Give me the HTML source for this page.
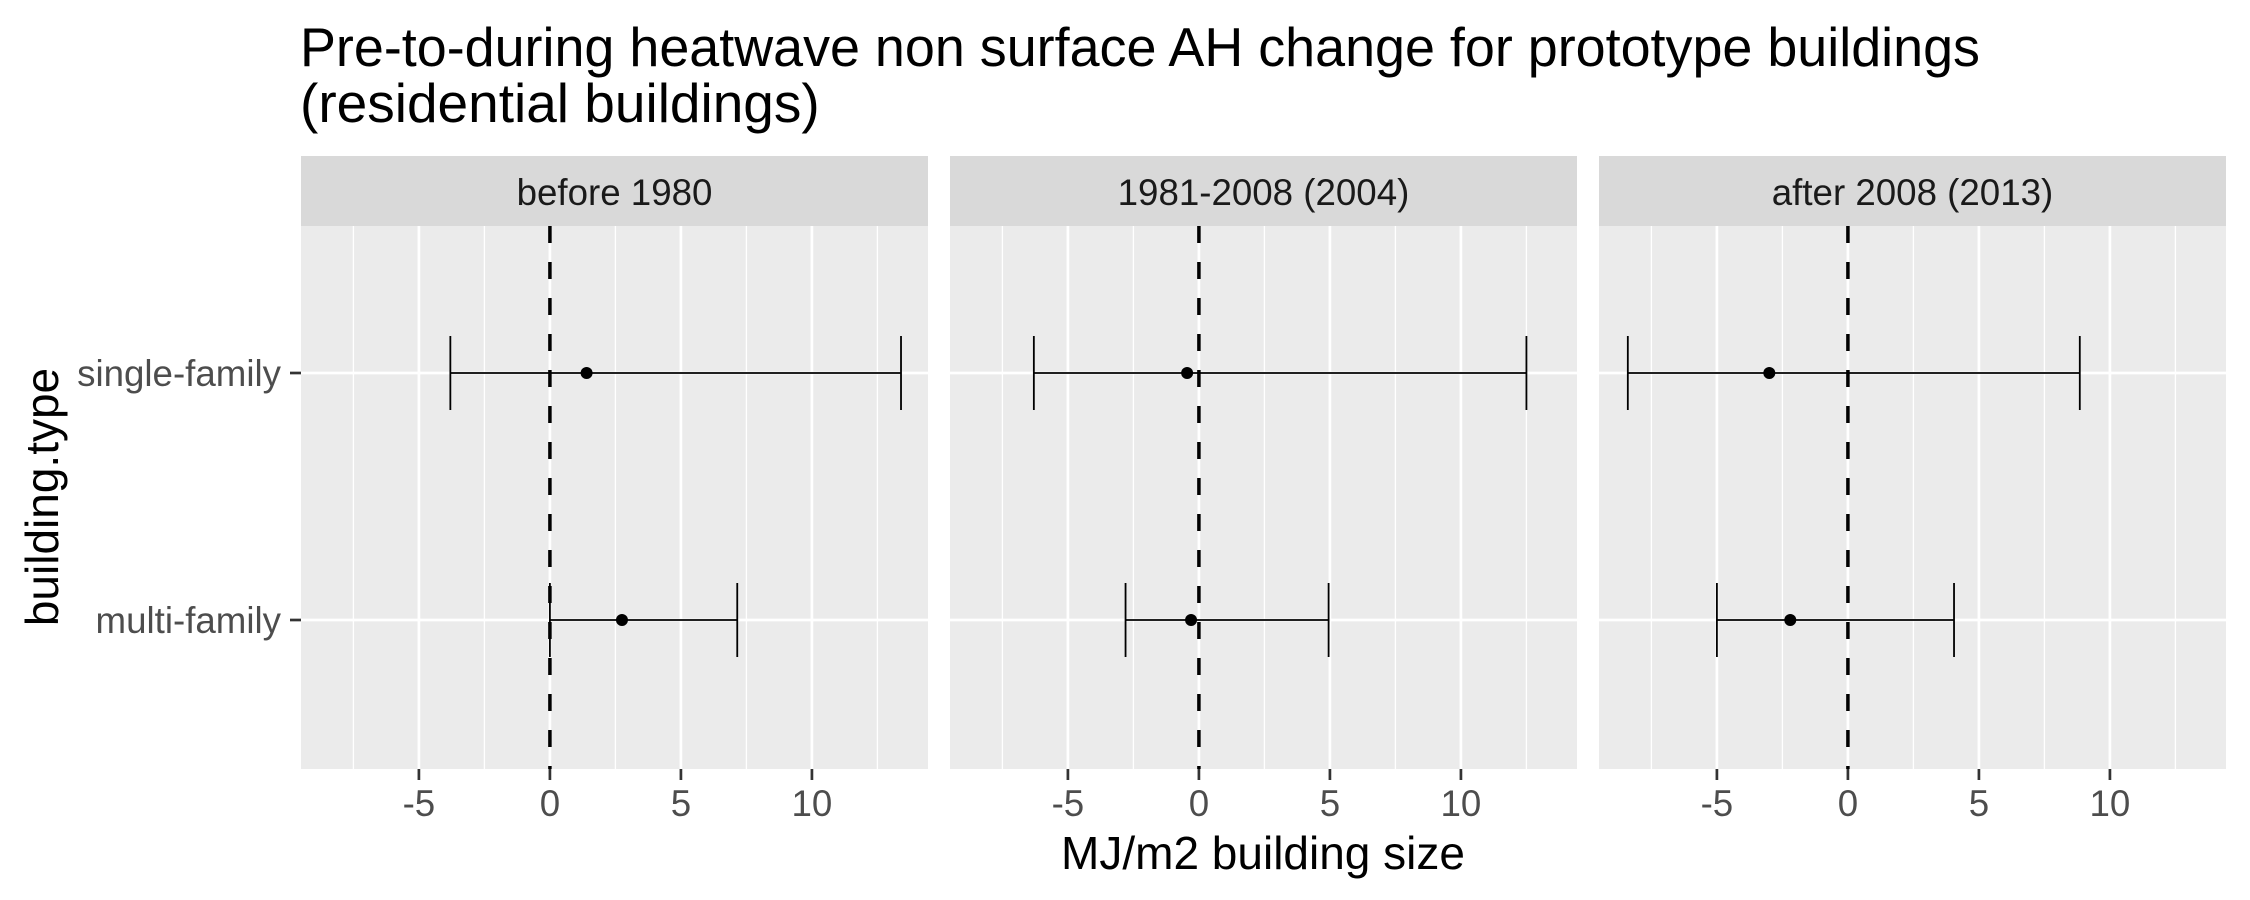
<!DOCTYPE html>
<html><head><meta charset="utf-8"><style>
html,body{margin:0;padding:0;background:#fff;}
svg{display:block;font-family:"Liberation Sans",Arial,sans-serif;}
</style></head><body>
<svg id="chart" width="2250" height="900" viewBox="0 0 2250 900" xmlns="http://www.w3.org/2000/svg">
<text x="300" y="66" font-size="55" fill="#000" textLength="1680" lengthAdjust="spacingAndGlyphs">Pre-to-during heatwave non surface AH change for prototype buildings</text>
<text x="300" y="122" font-size="55" fill="#000">(residential buildings)</text>
<text transform="translate(58,497) rotate(-90)" text-anchor="middle" font-size="46" fill="#000">building.type</text>
<text x="1263" y="869" text-anchor="middle" font-size="46" fill="#000">MJ/m2 building size</text>
<g id="panels"></g>
</svg>
<script>
const facets = ["before 1980", "1981-2008 (2004)", "after 2008 (2013)"];
const categories = ["single-family", "multi-family"];
const pointValues = [[1.4, 2.75], [-0.45, -0.3], [-3.0, -2.2]];
const lowValues = [[-3.8, 0.0], [-6.3, -2.8], [-8.4, -5.0]];
const highValues = [[13.4, 7.15], [12.5, 4.95], [8.85, 4.05]];
const majorTicks = [-5, 0, 5, 10];
const tickLabels = ["-5", "0", "5", "10"];
const minorTicks = [-7.5, -2.5, 2.5, 7.5, 12.5];
const refLine = 0;

const NS = "http://www.w3.org/2000/svg";
const panelLefts = [301, 950, 1599];
const PW = 627, STRIP_TOP = 156, STRIP_BOT = 226, PB = 769;
const XMIN = -9.5, XMAX = 14.43;
const rowY = [373, 620];
function xs(p, v){ return panelLefts[p] + (v - XMIN) / (XMAX - XMIN) * PW; }
function el(tag, attrs, parent){ const e = document.createElementNS(NS, tag); for (const k in attrs) e.setAttribute(k, attrs[k]); parent.appendChild(e); return e; }
const root = document.getElementById("panels");

facets.forEach((f, p) => {
  const g = el("g", {}, root);
  
  
  const L = panelLefts[p];
  const strip = el("rect", {x: L, y: STRIP_TOP, width: PW, height: STRIP_BOT - STRIP_TOP, fill: "#d9d9d9"}, g);
  
  
  const st = el("text", {x: L + PW / 2, y: 205, "text-anchor": "middle", "font-size": 36.7, fill: "#1a1a1a"}, g);
  st.textContent = f;
  
  
  const bg = el("rect", {x: L, y: STRIP_BOT, width: PW, height: PB - STRIP_BOT, fill: "#ebebeb"}, g);
  
  
  minorTicks.forEach(v => {
    const l = el("line", {x1: xs(p, v), x2: xs(p, v), y1: STRIP_BOT, y2: PB, stroke: "#fff", "stroke-width": 1.3}, g);
    
    
  });
  majorTicks.forEach((v, i) => {
    const l = el("line", {x1: xs(p, v), x2: xs(p, v), y1: STRIP_BOT, y2: PB, stroke: "#fff", "stroke-width": 2.7}, g);
    
    
    const t = el("line", {x1: xs(p, v), x2: xs(p, v), y1: PB, y2: PB + 11, stroke: "#333", "stroke-width": 2.7}, g);
    
    
    const lab = el("text", {x: xs(p, v), y: 816, "text-anchor": "middle", "font-size": 36.7, fill: "#4d4d4d"}, g);
    lab.textContent = tickLabels[i];
    
    
  });
  categories.forEach((c, r) => {
    const l = el("line", {x1: L, x2: L + PW, y1: rowY[r], y2: rowY[r], stroke: "#fff", "stroke-width": 2.7}, g);
    
    
  });
  const ref = el("line", {x1: xs(p, refLine), x2: xs(p, refLine), y1: STRIP_BOT, y2: PB, stroke: "#000", "stroke-width": 3.5, "stroke-dasharray": "17,19"}, g);
  
  
  categories.forEach((c, r) => {
    const y = rowY[r];
    const x1 = xs(p, lowValues[p][r]), x2 = xs(p, highValues[p][r]);
    const eb = el("path", {d: `M${x1},${y-37}V${y+37}M${x1},${y}H${x2}M${x2},${y-37}V${y+37}`, stroke: "#000", "stroke-width": 1.8, fill: "none"}, g);
    
    
    const pt = el("circle", {cx: xs(p, pointValues[p][r]), cy: y, r: 6, fill: "#000"}, g);
    
    
  });
});
categories.forEach((c, r) => {
  const t = el("line", {x1: 290, x2: 301, y1: rowY[r], y2: rowY[r], stroke: "#333", "stroke-width": 2.7}, root);
  
  
  const lab = el("text", {x: 281, y: rowY[r] + 13, "text-anchor": "end", "font-size": 36.7, fill: "#4d4d4d"}, root);
  lab.textContent = c;
  
  
});
</script>
</body></html>
